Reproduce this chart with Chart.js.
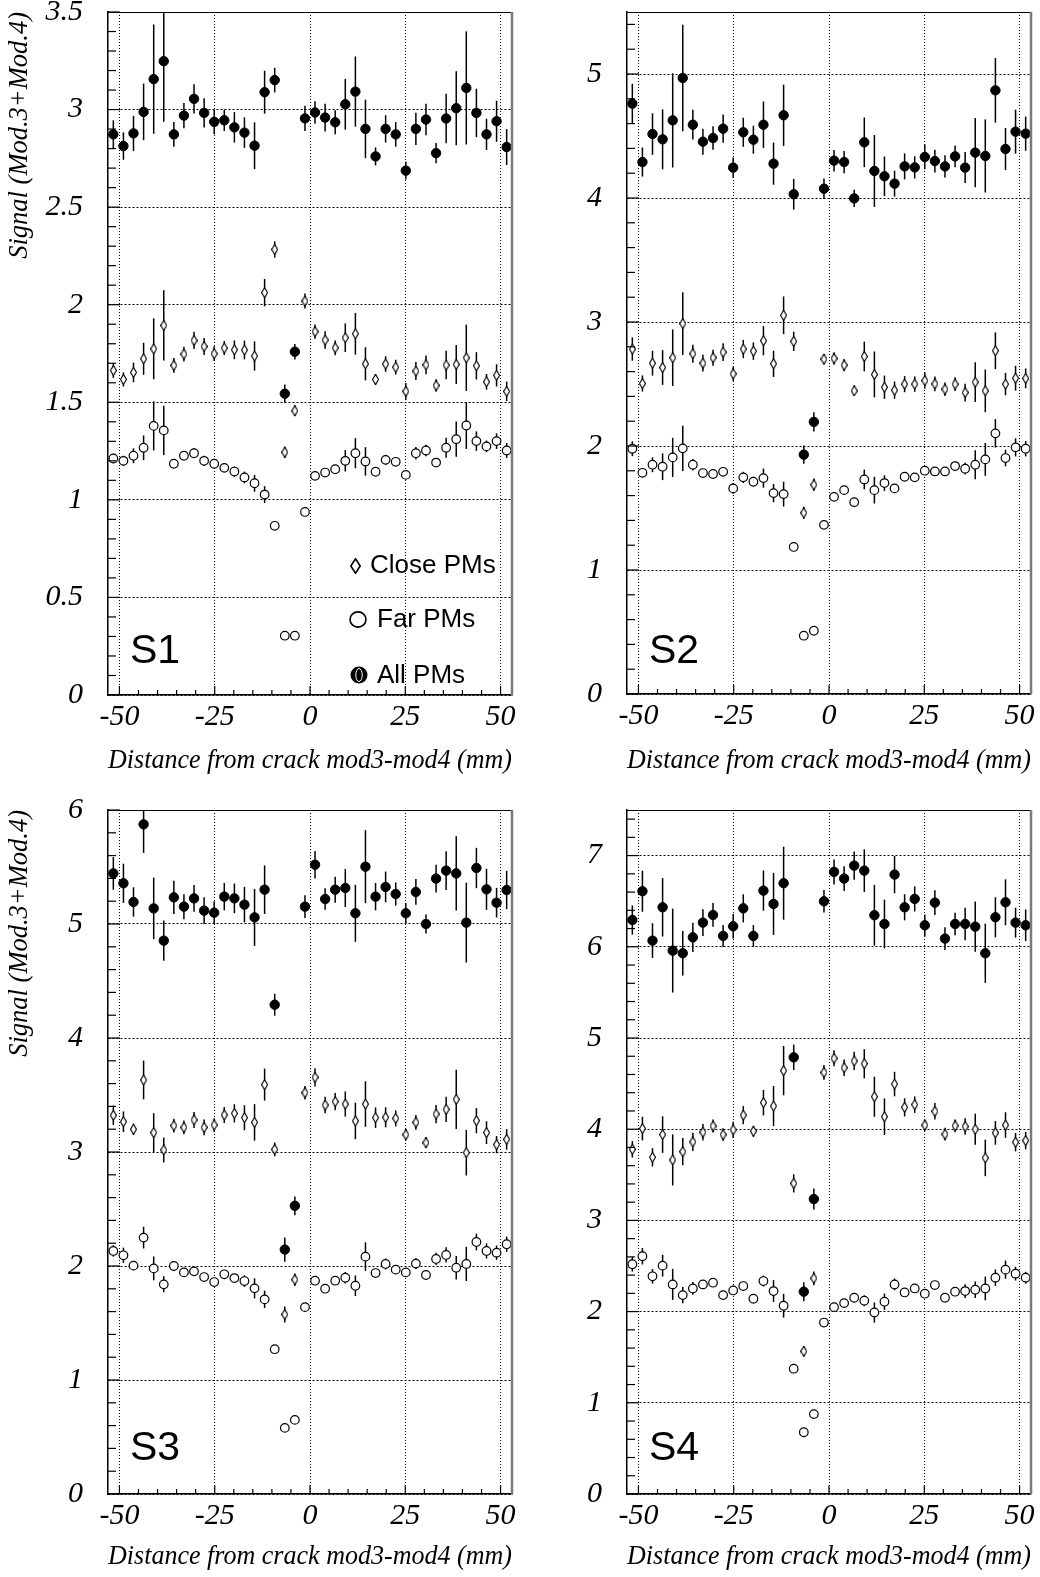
<!DOCTYPE html>
<html><head><meta charset="utf-8">
<script src="https://cdn.jsdelivr.net/npm/chart.js@4.4.0/dist/chart.umd.min.js"></script>
<style>
html,body{margin:0;padding:0;background:#fff;}
#wrap{position:relative;width:1040px;height:1577px;overflow:hidden;}
#wrap canvas{position:absolute;}
</style></head><body>
<div id="wrap">
<canvas id="c1" width="520" height="788" style="left:0px;top:0px"></canvas>
<canvas id="c2" width="520" height="788" style="left:520px;top:0px"></canvas>
<canvas id="c3" width="520" height="789" style="left:0px;top:788px"></canvas>
<canvas id="c4" width="520" height="789" style="left:520px;top:788px"></canvas>
</div>
<script>
// ---------------- data ----------------
const xPos = [-51.60,-48.95,-46.31,-43.66,-41.01,-38.37,-35.72,-33.08,-30.43,-27.78,-25.14,-22.49,-19.84,-17.20,-14.55,-11.91,-9.26,-6.61,-3.97,-1.32,1.32,3.97,6.61,9.26,11.91,14.55,17.20,19.84,22.49,25.14,27.78,30.43,33.08,35.72,38.37,41.01,43.66,46.31,48.95,51.60];
const xTicks = [-50,-25,0,25,50];
const xTitle = 'Distance from crack mod3-mod4 (mm)';
const yTitle = 'Signal (Mod.3+Mod.4)';
const seriesNames = ['Close PMs','Far PMs','All PMs'];
const panelNames = ['S1','S2','S3','S4'];
const s1Ticks = [0,0.5,1,1.5,2,2.5,3,3.5];
const s2Ticks = [0,1,2,3,4,5];
const s3Ticks = [0,1,2,3,4,5,6];
const s4Ticks = [0,1,2,3,4,5,6,7];

const s1All = [2.873,2.813,2.878,2.988,3.156,3.248,2.873,2.969,3.055,2.983,2.937,2.945,2.909,2.882,2.815,3.089,3.151,1.544,1.759,2.955,2.985,2.959,2.935,3.027,3.092,2.901,2.760,2.901,2.873,2.687,2.901,2.949,2.777,2.954,3.007,3.111,2.983,2.873,2.940,2.808];
const s1AllErr = [0.072,0.07,0.09,0.145,0.28,0.31,0.063,0.065,0.075,0.075,0.063,0.055,0.078,0.078,0.12,0.11,0.063,0.047,0.04,0.065,0.058,0.071,0.062,0.13,0.18,0.15,0.046,0.07,0.063,0.045,0.083,0.081,0.052,0.127,0.19,0.29,0.124,0.08,0.105,0.092];
const s1Close = [1.663,1.617,1.653,1.723,1.774,1.894,1.689,1.747,1.817,1.786,1.749,1.778,1.769,1.768,1.737,2.062,2.283,1.244,1.456,2.019,1.862,1.819,1.779,1.831,1.851,1.697,1.617,1.696,1.680,1.556,1.660,1.692,1.586,1.691,1.694,1.728,1.687,1.605,1.638,1.556];
const s1CloseErr = [0.038,0.036,0.05,0.082,0.156,0.18,0.038,0.038,0.044,0.044,0.038,0.036,0.048,0.048,0.075,0.07,0.042,0.03,0.028,0.038,0.036,0.045,0.038,0.073,0.107,0.085,0.028,0.04,0.038,0.043,0.046,0.048,0.032,0.073,0.1,0.17,0.07,0.04,0.057,0.05];
const s1Far = [1.212,1.2,1.226,1.267,1.379,1.356,1.185,1.226,1.239,1.2,1.185,1.164,1.145,1.115,1.085,1.027,0.867,0.304,0.304,0.938,1.123,1.140,1.157,1.2,1.239,1.197,1.144,1.205,1.195,1.128,1.239,1.253,1.191,1.267,1.311,1.381,1.301,1.274,1.301,1.253];
const s1FarErr = [0.024,0.026,0.038,0.063,0.126,0.126,0.015,0.018,0.026,0.026,0.02,0.015,0.026,0.03,0.043,0.043,0.01,0.01,0.01,0.01,0.015,0.02,0.02,0.055,0.077,0.073,0.012,0.026,0.02,0.012,0.032,0.03,0.012,0.051,0.09,0.12,0.05,0.03,0.04,0.038];

const s2All = [4.761,4.290,4.516,4.473,4.626,4.968,4.591,4.454,4.484,4.559,4.245,4.530,4.470,4.591,4.277,4.667,4.030,1.930,2.194,4.075,4.301,4.290,3.997,4.449,4.218,4.175,4.116,4.255,4.247,4.331,4.298,4.255,4.336,4.245,4.366,4.339,4.868,4.395,4.535,4.519];
const s2AllErr = [0.16,0.117,0.168,0.242,0.38,0.43,0.12,0.105,0.094,0.114,0.082,0.117,0.113,0.187,0.17,0.247,0.124,0.074,0.078,0.083,0.087,0.09,0.07,0.2,0.29,0.16,0.105,0.105,0.09,0.1,0.092,0.09,0.088,0.125,0.28,0.295,0.26,0.17,0.177,0.138];
const s2Close = [2.782,2.504,2.668,2.633,2.712,2.987,2.744,2.668,2.712,2.757,2.582,2.782,2.765,2.849,2.663,3.054,2.844,1.461,1.687,2.701,2.706,2.652,2.445,2.722,2.577,2.474,2.450,2.499,2.499,2.528,2.501,2.458,2.499,2.431,2.515,2.445,2.768,2.499,2.547,2.545];
const s2CloseErr = [0.094,0.065,0.1,0.14,0.228,0.253,0.073,0.067,0.065,0.071,0.058,0.074,0.07,0.118,0.106,0.152,0.078,0.05,0.05,0.04,0.05,0.05,0.04,0.12,0.185,0.094,0.07,0.065,0.062,0.067,0.06,0.054,0.055,0.072,0.16,0.172,0.148,0.09,0.1,0.08];
const s2Far = [1.978,1.784,1.849,1.833,1.908,1.981,1.849,1.782,1.774,1.792,1.658,1.747,1.712,1.741,1.620,1.612,1.186,0.47,0.51,1.364,1.590,1.644,1.547,1.730,1.644,1.701,1.658,1.752,1.747,1.801,1.795,1.795,1.838,1.817,1.849,1.892,2.102,1.903,1.989,1.978];
const s2FarErr = [0.06,0.035,0.06,0.108,0.158,0.182,0.047,0.02,0.02,0.036,0.043,0.045,0.04,0.077,0.074,0.1,0.015,0.015,0.015,0.015,0.03,0.035,0.015,0.08,0.108,0.063,0.03,0.03,0.025,0.03,0.025,0.025,0.025,0.047,0.117,0.132,0.115,0.067,0.073,0.062];

const s3All = [5.444,5.357,5.193,5.874,5.137,4.854,5.234,5.152,5.225,5.117,5.099,5.240,5.225,5.170,5.058,5.301,4.292,2.144,2.528,5.152,5.520,5.219,5.301,5.316,5.094,5.503,5.240,5.325,5.263,5.094,5.281,5.000,5.398,5.468,5.444,5.012,5.491,5.304,5.187,5.298];
const s3AllErr = [0.143,0.172,0.129,0.25,0.27,0.177,0.146,0.11,0.117,0.117,0.1,0.12,0.13,0.155,0.25,0.213,0.096,0.107,0.082,0.1,0.121,0.095,0.114,0.167,0.25,0.32,0.12,0.135,0.102,0.09,0.113,0.083,0.121,0.17,0.325,0.35,0.177,0.18,0.13,0.168];
const s3Close = [3.322,3.266,3.20,3.632,3.170,3.018,3.231,3.216,3.281,3.216,3.237,3.325,3.339,3.301,3.260,3.591,3.023,1.575,1.880,3.520,3.655,3.412,3.442,3.421,3.272,3.421,3.301,3.304,3.295,3.152,3.260,3.082,3.333,3.374,3.462,2.994,3.275,3.170,3.065,3.111];
const s3CloseErr = [0.085,0.09,0.05,0.17,0.17,0.11,0.06,0.06,0.07,0.07,0.06,0.07,0.08,0.11,0.16,0.14,0.06,0.07,0.055,0.06,0.08,0.073,0.075,0.11,0.16,0.2,0.09,0.088,0.07,0.05,0.065,0.05,0.08,0.11,0.26,0.2,0.11,0.1,0.075,0.09];
const s3Far = [2.132,2.094,2.003,2.249,1.979,1.839,2.000,1.944,1.953,1.903,1.859,1.927,1.894,1.868,1.804,1.707,1.270,0.58,0.65,1.639,1.871,1.801,1.871,1.897,1.827,2.082,1.938,2.018,1.968,1.944,2.021,1.921,2.062,2.097,1.985,2.018,2.211,2.132,2.117,2.191];
const s3FarErr = [0.05,0.067,0.04,0.095,0.105,0.07,0.04,0.03,0.03,0.03,0.035,0.03,0.03,0.05,0.088,0.076,0.015,0.015,0.015,0.015,0.03,0.03,0.035,0.05,0.09,0.125,0.03,0.048,0.03,0.03,0.048,0.03,0.054,0.067,0.103,0.15,0.073,0.066,0.063,0.067];

const s4All = [6.294,6.609,6.068,6.433,5.958,5.929,6.104,6.265,6.349,6.119,6.225,6.422,6.119,6.616,6.470,6.697,4.788,2.218,3.234,6.499,6.821,6.748,6.890,6.835,6.346,6.250,6.792,6.433,6.525,6.236,6.484,6.090,6.250,6.250,6.221,5.929,6.324,6.488,6.265,6.236];
const s4AllErr = [0.16,0.225,0.19,0.32,0.46,0.245,0.16,0.146,0.13,0.12,0.135,0.154,0.12,0.22,0.34,0.4,0.14,0.105,0.115,0.124,0.137,0.135,0.155,0.234,0.333,0.267,0.205,0.143,0.137,0.119,0.135,0.124,0.124,0.177,0.276,0.325,0.22,0.252,0.164,0.173];
const s4Close = [3.780,4.007,3.692,3.941,3.663,3.754,3.861,3.967,4.035,3.941,3.993,4.155,3.978,4.291,4.254,4.642,3.406,1.565,2.365,4.623,4.777,4.674,4.748,4.718,4.356,4.137,4.495,4.240,4.269,4.044,4.196,3.945,4.037,4.029,4.000,3.685,3.960,4.046,3.857,3.875];
const s4CloseErr = [0.09,0.13,0.1,0.2,0.28,0.15,0.1,0.09,0.07,0.07,0.09,0.1,0.06,0.14,0.22,0.27,0.1,0.055,0.075,0.082,0.088,0.09,0.1,0.16,0.22,0.2,0.134,0.1,0.09,0.06,0.09,0.07,0.07,0.09,0.17,0.2,0.13,0.14,0.1,0.095];
const s4Far = [2.519,2.607,2.387,2.504,2.298,2.181,2.254,2.298,2.317,2.181,2.232,2.280,2.141,2.335,2.225,2.064,1.374,0.677,0.876,1.880,2.049,2.093,2.152,2.119,1.990,2.108,2.298,2.210,2.254,2.196,2.291,2.152,2.218,2.225,2.240,2.254,2.372,2.460,2.416,2.372];
const s4FarErr = [0.08,0.09,0.08,0.12,0.17,0.09,0.07,0.04,0.04,0.03,0.03,0.04,0.03,0.06,0.12,0.13,0.015,0.015,0.015,0.015,0.03,0.03,0.03,0.06,0.11,0.09,0.065,0.03,0.035,0.03,0.03,0.03,0.04,0.075,0.09,0.13,0.09,0.1,0.075,0.065];

// ---------------- style / layout ----------------
const serif = '"Liberation Serif","Times New Roman",serif';
const sans = '"Liberation Sans",Arial,sans-serif';
Chart.defaults.color = '#000';

function diamondImg(w, h, lw) {
  const c = document.createElement('canvas');
  c.width = w; c.height = h;
  const g = c.getContext('2d');
  g.fillStyle = '#fff'; g.strokeStyle = '#000'; g.lineWidth = lw;
  g.beginPath();
  g.moveTo(w / 2, lw / 2); g.lineTo(w - lw / 2, h / 2); g.lineTo(w / 2, h - lw / 2); g.lineTo(lw / 2, h / 2);
  g.closePath(); g.fill(); g.stroke();
  return c;
}
const diamond = diamondImg(7, 11, 1.1);

function pts(vals) { return xPos.map((x, i) => ({ x: x, y: vals[i] })); }

const errPlugin = {
  id: 'errbars',
  beforeDatasetsDraw(chart) {
    const { ctx, chartArea: a, scales } = chart;
    const x = scales.x, y = scales.y;
    ctx.save();
    ctx.beginPath(); ctx.rect(a.left, a.top, a.right - a.left, a.bottom - a.top); ctx.clip();
    ctx.strokeStyle = '#000'; ctx.lineWidth = 1.5;
    chart.data.datasets.forEach(ds => {
      ds.data.forEach((p, i) => {
        const e = ds.errors[i];
        const px = x.getPixelForValue(p.x);
        ctx.beginPath();
        ctx.moveTo(px, y.getPixelForValue(p.y + e));
        ctx.lineTo(px, y.getPixelForValue(p.y - e));
        ctx.stroke();
      });
    });
    ctx.restore();
  }
};

const framePlugin = {
  id: 'frame',
  afterDraw(chart, args, o) {
    const { ctx, chartArea: a, scales } = chart;
    const x = scales.x, y = scales.y;
    ctx.save();
    ctx.strokeStyle = '#000'; ctx.lineWidth = 1;
    ctx.beginPath(); ctx.moveTo(a.left, Math.round(a.top) + 0.5); ctx.lineTo(a.right, Math.round(a.top) + 0.5); ctx.stroke();
    ctx.strokeStyle = '#7a7a7a'; ctx.lineWidth = 2.5;
    ctx.beginPath(); ctx.moveTo(a.right, a.top); ctx.lineTo(a.right, a.bottom); ctx.stroke();
    ctx.strokeStyle = '#000'; ctx.lineWidth = 1.2;
    for (let k = -10; k <= 10; k++) {
      const v = k * 5;
      const px = x.getPixelForValue(v);
      const len = (k % 5 === 0) ? 9 : 5;
      ctx.beginPath(); ctx.moveTo(px, a.bottom); ctx.lineTo(px, a.bottom - len); ctx.stroke();
    }
    const n = Math.floor(o.ymax / o.minor + 1e-6);
    const per = Math.round(o.major / o.minor);
    for (let k = 0; k <= n; k++) {
      const py = y.getPixelForValue(k * o.minor);
      if (py < a.top - 0.5) continue;
      const len = (k % per === 0) ? 12 : 8;
      ctx.beginPath(); ctx.moveTo(a.left, py); ctx.lineTo(a.left + len, py); ctx.stroke();
    }
    // panel label
    ctx.fillStyle = '#000';
    ctx.font = '41px ' + sans;
    ctx.textBaseline = 'alphabetic'; ctx.textAlign = 'left';
    ctx.fillText(o.name, a.left + 22, o.labelY);
    if (o.legend) {
      const lx = a.left;
      ctx.drawImage(diamondImg(11, 16, 1.6), lx + 242, 558);
      ctx.font = '26px ' + sans; ctx.textBaseline = 'middle';
      ctx.fillText(seriesNames[0], lx + 262, 566);
      ctx.lineWidth = 1.6; ctx.strokeStyle = '#000';
      ctx.beginPath(); ctx.ellipse(lx + 250, 619.5, 8, 7.6, 0, 0, Math.PI * 2); ctx.stroke();
      ctx.fillText(seriesNames[1], lx + 269, 620);
      ctx.beginPath(); ctx.arc(lx + 251, 675, 8.5, 0, Math.PI * 2); ctx.fill();
      ctx.strokeStyle = '#fff'; ctx.lineWidth = 1;
      ctx.beginPath(); ctx.ellipse(lx + 251, 675, 3.2, 6.5, 0, 0, Math.PI * 2); ctx.stroke();
      ctx.fillStyle = '#000';
      ctx.fillText(seriesNames[2], lx + 269, 676);
    }
    ctx.restore();
  }
};

function makePanel(id, p, g) {
  const el = document.getElementById(id);
  return new Chart(el, {
    type: 'scatter',
    data: {
      datasets: [
        { label: seriesNames[0], data: pts(p.close), errors: p.closeErr, pointStyle: diamond, pointRadius: 5, borderWidth: 0 },
        { label: seriesNames[1], data: pts(p.far), errors: p.farErr, pointStyle: 'circle', pointRadius: 4.3, backgroundColor: '#fff', borderColor: '#000', borderWidth: 1.2 },
        { label: seriesNames[2], data: pts(p.all), errors: p.allErr, pointStyle: 'circle', pointRadius: 4.7, backgroundColor: '#000', borderColor: '#000', borderWidth: 1 }
      ]
    },
    options: {
      responsive: false, animation: false, events: [],
      layout: { padding: { top: g.top, right: g.right, left: 0, bottom: 0 } },
      plugins: {
        legend: { display: false }, tooltip: { enabled: false },
        frame: { ymax: p.ymax, minor: p.minor, major: p.major, name: p.name, labelY: g.labelY, legend: p.legend }
      },
      scales: {
        x: {
          type: 'linear', position: 'bottom', min: -53, max: 53,
          afterBuildTicks: s => { s.ticks = xTicks.map(v => ({ value: v })); },
          afterFit: s => { s.height = g.xAxisH; s.paddingLeft = 0; s.paddingRight = 0; s.paddingTop = 0; s.paddingBottom = 0; },
          ticks: { autoSkip: false, maxRotation: 0, padding: 4, color: '#000', font: { family: serif, size: 30, style: 'italic' }, callback: v => String(v) },
          grid: { color: '#000', lineWidth: 1, drawTicks: false },
          border: { display: true, color: '#000', width: 1.5, dash: [1, 2] },
          title: { display: true, text: xTitle, color: '#000', font: { family: serif, size: 26.5, style: 'italic' }, padding: { top: 0, bottom: g.xTitlePad } }
        },
        y: {
          type: 'linear', position: 'left', min: 0, max: p.ymax,
          afterBuildTicks: s => { s.ticks = p.ticks.map(v => ({ value: v })); },
          afterFit: s => { s.width = g.yAxisW; s.paddingLeft = 0; s.paddingRight = 0; s.paddingTop = 0; s.paddingBottom = 0; },
          ticks: { autoSkip: false, padding: 25, color: '#000', font: { family: serif, size: 30, style: 'italic' }, callback: v => String(v) },
          grid: { color: '#000', lineWidth: 1, drawTicks: false },
          border: { display: true, color: '#000', width: 1.5, dash: [2, 2] },
          title: { display: p.yTitle, text: yTitle, align: 'end', color: '#000', font: { family: serif, size: 26.5, style: 'italic' }, padding: { top: 4, bottom: 0 } }
        }
      }
    },
    plugins: [errPlugin, framePlugin]
  });
}

makePanel('c1', { all: s1All, allErr: s1AllErr, close: s1Close, closeErr: s1CloseErr, far: s1Far, farErr: s1FarErr, ymax: 3.5, ticks: s1Ticks, minor: 0.1, major: 0.5, name: panelNames[0], yTitle: true, legend: true },
  { top: 12, right: 8, yAxisW: 108, xAxisH: 93, xTitlePad: 11, labelY: 663 });
makePanel('c2', { all: s2All, allErr: s2AllErr, close: s2Close, closeErr: s2CloseErr, far: s2Far, farErr: s2FarErr, ymax: 5.5, ticks: s2Ticks, minor: 0.2, major: 1, name: panelNames[1], yTitle: false, legend: false },
  { top: 12, right: 9, yAxisW: 107, xAxisH: 94, xTitlePad: 11, labelY: 663 });
makePanel('c3', { all: s3All, allErr: s3AllErr, close: s3Close, closeErr: s3CloseErr, far: s3Far, farErr: s3FarErr, ymax: 6, ticks: s3Ticks, minor: 0.2, major: 1, name: panelNames[2], yTitle: true, legend: false },
  { top: 22, right: 8, yAxisW: 108, xAxisH: 83, xTitlePad: 4, labelY: 672 });
makePanel('c4', { all: s4All, allErr: s4AllErr, close: s4Close, closeErr: s4CloseErr, far: s4Far, farErr: s4FarErr, ymax: 7.5, ticks: s4Ticks, minor: 0.2, major: 1, name: panelNames[3], yTitle: false, legend: false },
  { top: 22, right: 9, yAxisW: 107, xAxisH: 83, xTitlePad: 4, labelY: 672 });
</script>
</body></html>
